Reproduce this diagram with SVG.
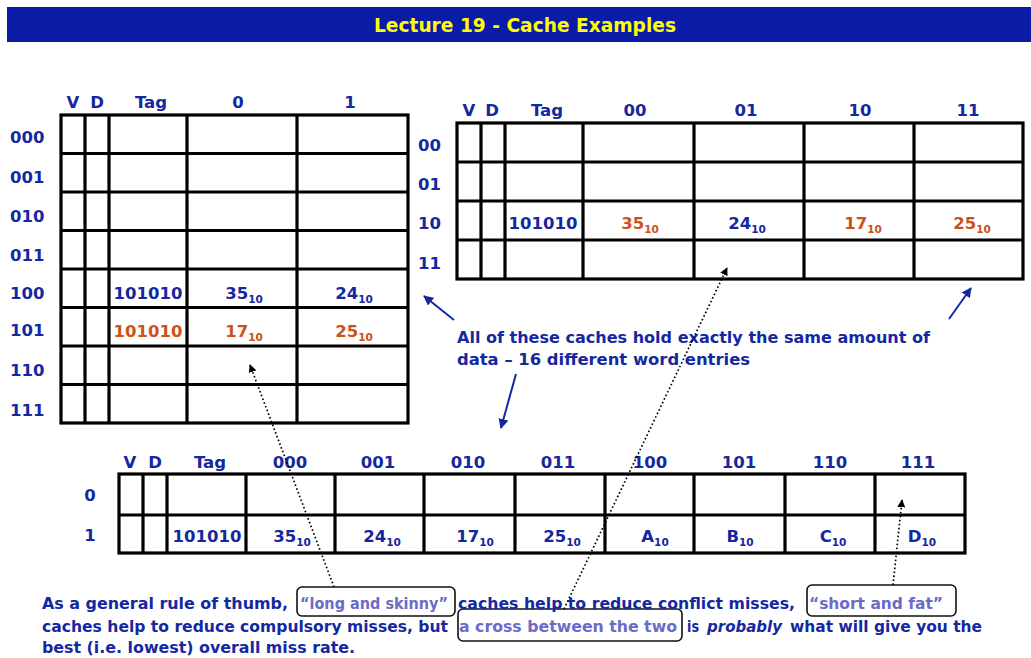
<svg xmlns="http://www.w3.org/2000/svg" width="1031" height="658" viewBox="0 0 1031 658">
<defs>
<style>
.t{font-family:"DejaVu Sans","Liberation Sans",sans-serif;font-weight:bold;font-size:16.5px;fill:#1428a0}
.c{text-anchor:middle}
.o{fill:#cc5218}
.p{font-family:"DejaVu Sans","Liberation Sans",sans-serif;font-weight:bold;font-size:16px;fill:#1428a0}
.q{fill:#6b6bc8}
.grid{fill:none;stroke:#000;stroke-width:3.2}
.box{fill:none;stroke:#111;stroke-width:1.6}
.arr{stroke:#1428a0;stroke-width:2;fill:none}
.dot{stroke:#000;stroke-width:1.7;stroke-dasharray:1.6 2.4;fill:none}
</style>
<marker id="ab" viewBox="0 0 10 10" refX="9" refY="5" markerWidth="5" markerHeight="5" orient="auto"><path d="M0,0 L10,5 L0,10 z" fill="#1428a0"/></marker>
<marker id="ak" viewBox="0 0 10 10" refX="9" refY="5" markerWidth="8" markerHeight="8" orient="auto" markerUnits="userSpaceOnUse"><path d="M0,0 L10,5 L0,10 z" fill="#000"/></marker>
</defs>
<rect width="1031" height="658" fill="#fff"/>
<g id="title">
<rect x="7" y="7" width="1024" height="35" fill="#0a1ca6"/>
<text x="525" y="32" text-anchor="middle" textLength="302" lengthAdjust="spacingAndGlyphs" style="font-family:'DejaVu Sans',sans-serif;font-weight:bold;font-size:20px;fill:#ffff00">Lecture 19 - Cache Examples</text>
</g>
<g id="cache-8x2">
<rect class="grid" x="61" y="115" width="347" height="308"/>
<path class="grid" d="M85,115V423M109,115V423M187,115V423M297,115V423M61,153.5H408M61,192H408M61,230.5H408M61,269H408M61,307.5H408M61,346H408M61,384.5H408"/>
<text class="t c" x="73" y="108">V</text><text class="t c" x="97" y="108">D</text><text class="t c" x="151" y="108">Tag</text><text class="t c" x="238" y="108">0</text><text class="t c" x="350" y="108">1</text>
<text class="t" x="10" y="143">000</text><text class="t" x="10" y="183">001</text><text class="t" x="10" y="222">010</text><text class="t" x="10" y="261">011</text><text class="t" x="10" y="299">100</text><text class="t" x="10" y="336">101</text><text class="t" x="10" y="376">110</text><text class="t" x="10" y="416">111</text>
<text class="t c" x="148" y="299">101010</text>
<text class="t c" x="244" y="299">35<tspan font-size="10.5" dy="4">10</tspan></text>
<text class="t c" x="354" y="299">24<tspan font-size="10.5" dy="4">10</tspan></text>
<text class="t c o" x="148" y="337">101010</text>
<text class="t c o" x="244" y="337">17<tspan font-size="10.5" dy="4">10</tspan></text>
<text class="t c o" x="354" y="337">25<tspan font-size="10.5" dy="4">10</tspan></text>
</g>
<g id="cache-4x4">
<rect class="grid" x="457" y="123" width="566" height="156"/>
<path class="grid" d="M481,123V279M505,123V279M583,123V279M694,123V279M804,123V279M914,123V279M457,162H1023M457,201H1023M457,240H1023"/>
<text class="t c" x="469" y="116">V</text><text class="t c" x="492" y="116">D</text><text class="t c" x="547" y="116">Tag</text><text class="t c" x="635" y="116">00</text><text class="t c" x="746" y="116">01</text><text class="t c" x="860" y="116">10</text><text class="t c" x="968" y="116">11</text>
<text class="t" x="418" y="151">00</text><text class="t" x="418" y="190">01</text><text class="t" x="418" y="229">10</text><text class="t" x="418" y="269">11</text>
<text class="t c" x="543" y="229">101010</text>
<text class="t c o" x="640" y="229">35<tspan font-size="10.5" dy="4">10</tspan></text>
<text class="t c" x="747" y="229">24<tspan font-size="10.5" dy="4">10</tspan></text>
<text class="t c o" x="863" y="229">17<tspan font-size="10.5" dy="4">10</tspan></text>
<text class="t c o" x="972" y="229">25<tspan font-size="10.5" dy="4">10</tspan></text>
</g>
<g id="cache-2x8">
<rect class="grid" x="119" y="474" width="846" height="79"/>
<path class="grid" d="M143,474V553M167,474V553M246,474V553M335,474V553M424,474V553M515,474V553M605,474V553M694,474V553M785,474V553M875,474V553M119,515H965"/>
<text class="t c" x="130" y="468">V</text><text class="t c" x="155" y="468">D</text><text class="t c" x="210" y="468">Tag</text><text class="t c" x="290" y="468">000</text><text class="t c" x="378" y="468">001</text><text class="t c" x="468" y="468">010</text><text class="t c" x="558" y="468">011</text><text class="t c" x="650" y="468">100</text><text class="t c" x="739" y="468">101</text><text class="t c" x="830" y="468">110</text><text class="t c" x="918" y="468">111</text>
<text class="t c" x="90" y="501">0</text><text class="t c" x="90" y="541">1</text>
<text class="t c" x="207" y="542">101010</text>
<text class="t c" x="292" y="542">35<tspan font-size="10.5" dy="4">10</tspan></text>
<text class="t c" x="382" y="542">24<tspan font-size="10.5" dy="4">10</tspan></text>
<text class="t c" x="475" y="542">17<tspan font-size="10.5" dy="4">10</tspan></text>
<text class="t c" x="562" y="542">25<tspan font-size="10.5" dy="4">10</tspan></text>
<text class="t c" x="655" y="542">A<tspan font-size="10.5" dy="4">10</tspan></text>
<text class="t c" x="740" y="542">B<tspan font-size="10.5" dy="4">10</tspan></text>
<text class="t c" x="833" y="542">C<tspan font-size="10.5" dy="4">10</tspan></text>
<text class="t c" x="922" y="542">D<tspan font-size="10.5" dy="4">10</tspan></text>
</g>
<g id="note">
<text class="p" x="457" y="343" textLength="473" lengthAdjust="spacingAndGlyphs">All of these caches hold exactly the same amount of</text>
<text class="p" x="457" y="365" textLength="293" lengthAdjust="spacingAndGlyphs">data – 16 different word entries</text>
</g>
<g id="summary">
<rect class="box" x="297" y="587" width="158" height="29" rx="5"/>
<rect class="box" x="458" y="609" width="224" height="32" rx="5"/>
<rect class="box" x="807" y="585" width="149" height="31" rx="5"/>
<text class="p" x="42" y="609" textLength="246" lengthAdjust="spacingAndGlyphs">As a general rule of thumb,</text>
<text class="p q" x="300" y="609" textLength="148" lengthAdjust="spacingAndGlyphs">“long and skinny”</text>
<text class="p" x="458" y="609" textLength="337" lengthAdjust="spacingAndGlyphs">caches help to reduce conflict misses,</text>
<text class="p q" x="809" y="609" textLength="134" lengthAdjust="spacingAndGlyphs">“short and fat”</text>
<text class="p" x="42" y="632" textLength="406" lengthAdjust="spacingAndGlyphs">caches help to reduce compulsory misses, but</text>
<text class="p q" x="459" y="632" textLength="218" lengthAdjust="spacingAndGlyphs">a cross between the two</text>
<text class="p" x="687" y="632" textLength="12" lengthAdjust="spacingAndGlyphs">is</text>
<text class="p" x="707" y="632" font-style="italic" textLength="75" lengthAdjust="spacingAndGlyphs">probably</text>
<text class="p" x="790" y="632" textLength="192" lengthAdjust="spacingAndGlyphs">what will give you the</text>
<text class="p" x="42" y="653" textLength="313" lengthAdjust="spacingAndGlyphs">best (i.e. lowest) overall miss rate.</text>
</g>
<g id="connectors">
<line class="arr" x1="454" y1="320" x2="424" y2="296" marker-end="url(#ab)"/>
<line class="arr" x1="949" y1="319" x2="971" y2="288" marker-end="url(#ab)"/>
<line class="arr" x1="516" y1="374" x2="501" y2="428" marker-end="url(#ab)"/>
<line class="dot" x1="334" y1="587" x2="250" y2="365" marker-end="url(#ak)"/>
<line class="dot" x1="564" y1="609" x2="727" y2="268" marker-end="url(#ak)"/>
<line class="dot" x1="893" y1="585" x2="902" y2="500" marker-end="url(#ak)"/>
</g>
</svg>
